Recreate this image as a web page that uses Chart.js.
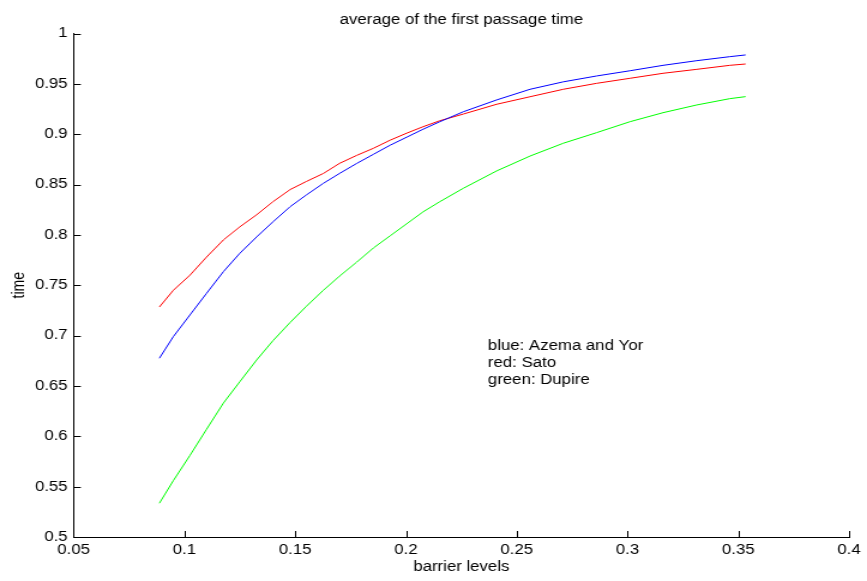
<!DOCTYPE html>
<html>
<head>
<meta charset="utf-8">
<script src="https://cdn.jsdelivr.net/npm/chart.js@4"></script>
<style>
  html, body { margin: 0; padding: 0; background: #fff; overflow: hidden; }
  /* the figure is drawn narrow and widened, like the exported plot */
  #wrap { width: 723px; height: 581px; transform: scaleX(1.1992); transform-origin: 0 0; }
</style>
</head>
<body>
<div id="wrap"><canvas id="chart" width="723" height="581"></canvas></div>
<script>
// barrier levels and mean first passage times
const LEVELS = [0.0887, 0.095, 0.1025, 0.110, 0.1176, 0.125, 0.1326, 0.140, 0.1477, 0.155, 0.1627, 0.170, 0.1778, 0.1853,
  0.1928, 0.2003, 0.2078, 0.2153, 0.2259, 0.2409, 0.256, 0.271, 0.286, 0.3011, 0.3161, 0.3312, 0.3462, 0.3533];
const AZEMA_YOR = [0.6775, 0.699, 0.7205, 0.742, 0.7635, 0.7817, 0.798, 0.813, 0.828, 0.8396, 0.8512, 0.861, 0.871, 0.880,
  0.889, 0.897, 0.905, 0.9124, 0.9223, 0.934, 0.9446, 0.952, 0.9578, 0.963, 0.9684, 0.973, 0.977, 0.9787];
const SATO = [0.7284, 0.745, 0.760, 0.778, 0.795, 0.808, 0.820, 0.833, 0.845, 0.853, 0.861, 0.871, 0.879, 0.886,
  0.894, 0.901, 0.9075, 0.9134, 0.920, 0.9297, 0.9372, 0.9446, 0.9505, 0.9555, 0.9605, 0.9644, 0.9684, 0.9697];
const DUPIRE = [0.5335, 0.556, 0.581, 0.607, 0.633, 0.6542, 0.6758, 0.695, 0.713, 0.729, 0.745, 0.759, 0.773, 0.787,
  0.799, 0.811, 0.823, 0.833, 0.8463, 0.8635, 0.8783, 0.891, 0.9015, 0.9124, 0.9214, 0.929, 0.9353, 0.9373];

const X_TICKS = [0.05, 0.1, 0.15, 0.2, 0.25, 0.3, 0.35, 0.4];
const X_LABELS = ['0.05', '0.1', '0.15', '0.2', '0.25', '0.3', '0.35', '0.4'];
const Y_TICKS = [0.5, 0.55, 0.6, 0.65, 0.7, 0.75, 0.8, 0.85, 0.9, 0.95, 1];
const Y_LABELS = ['0.5', '0.55', '0.6', '0.65', '0.7', '0.75', '0.8', '0.85', '0.9', '0.95', '1'];

const NOTE = ['blue: Azema and Yor', 'red: Sato', 'green: Dupire'];
const NOTE_AT = [0.237, 0.686];

const FONT = '"Liberation Sans", Arial, Helvetica, sans-serif';
const pts = (ys) => LEVELS.map((x, i) => ({ x, y: ys[i] }));
const ds = (data, color) => ({ data: pts(data), borderColor: color, backgroundColor: color, borderWidth: 1, pointRadius: 0, tension: 0 });

// MATLAB-ish decorations: inward ticks, title, axis labels, text note
const decor = {
  id: 'decor',
  afterDraw(chart) {
    const { ctx, chartArea: a, scales: { x, y } } = chart;
    ctx.save();
    ctx.strokeStyle = '#000'; ctx.lineWidth = 1;
    ctx.beginPath();
    x.ticks.forEach((t) => { const px = Math.round(x.getPixelForValue(t.value)) + 0.5; ctx.moveTo(px, a.bottom); ctx.lineTo(px, a.bottom - 6); });
    y.ticks.forEach((t) => { const py = Math.round(y.getPixelForValue(t.value)) + 0.5; ctx.moveTo(a.left, py); ctx.lineTo(a.left + 6, py); });
    ctx.stroke();

    ctx.fillStyle = '#000';
    ctx.font = '14px ' + FONT;
    ctx.textAlign = 'center'; ctx.textBaseline = 'alphabetic';
    const cx = (a.left + a.right) / 2;
    ctx.fillText('average of the first passage time', cx, 24);
    ctx.fillText('barrier levels', cx, 571);
    ctx.save();
    ctx.translate(20, (a.top + a.bottom) / 2); ctx.rotate(-Math.PI / 2);
    ctx.fillText('time', 0, 0);
    ctx.restore();

    ctx.textAlign = 'left';
    const nx = x.getPixelForValue(NOTE_AT[0]), ny = y.getPixelForValue(NOTE_AT[1]);
    NOTE.forEach((s, i) => ctx.fillText(s, nx, ny + i * 17));
    ctx.restore();
  },
};

const axis = (ticks, labels, fit) => ({
  type: 'linear', min: ticks[0], max: ticks[ticks.length - 1],
  afterBuildTicks: (s) => { s.ticks = ticks.map((value) => ({ value })); },
  afterFit: fit,
  grid: { display: true, drawOnChartArea: false, drawTicks: false },
  border: { display: true, color: '#000', width: 1 },
  ticks: { callback: (v, i) => labels[i], color: '#000', padding: 5, autoSkip: false, maxRotation: 0, font: { family: FONT, size: 14 } },
});

new Chart(document.getElementById('chart').getContext('2d'), {
  type: 'line',
  data: { datasets: [ds(AZEMA_YOR, '#0000ff'), ds(SATO, '#ff0000'), ds(DUPIRE, '#00ff00')] },
  options: {
    responsive: false, animation: false, devicePixelRatio: 1,
    layout: { padding: { left: 0, right: 15, top: 33.5, bottom: 0 } },
    scales: {
      x: axis(X_TICKS, X_LABELS, (s) => { s.height = 44; }),
      y: axis(Y_TICKS, Y_LABELS, (s) => { s.width = 61.4; }),
    },
    plugins: { legend: { display: false }, tooltip: { enabled: false }, title: { display: false } },
  },
  plugins: [decor],
});
</script>
</body>
</html>
